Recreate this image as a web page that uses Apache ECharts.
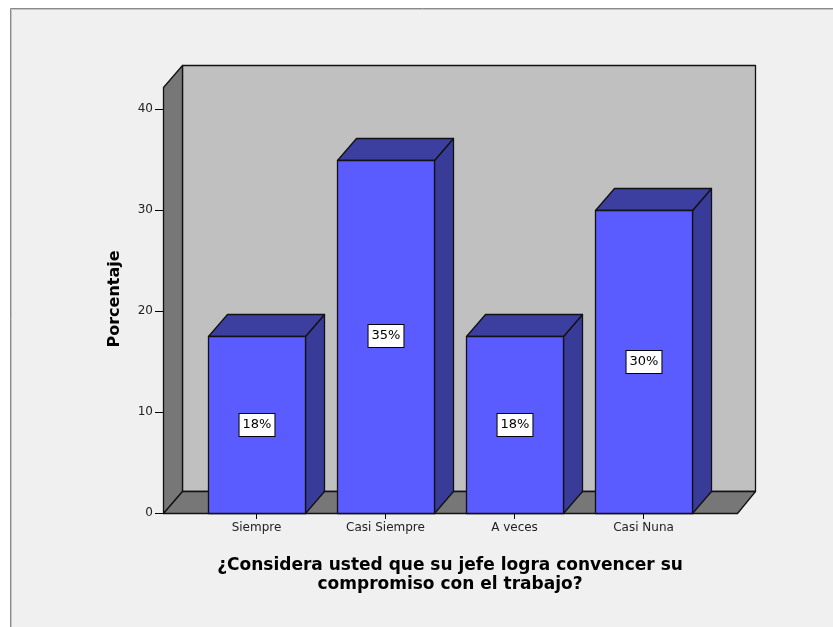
<!DOCTYPE html>
<html>
<head>
<meta charset="utf-8">
<script src="https://cdn.jsdelivr.net/npm/echarts@6/dist/echarts.min.js"></script>
<style>
  html, body { margin: 0; padding: 0; background: #ffffff; }
  #chart { width: 833px; height: 627px; }
</style>
</head>
<body>
<div id="chart"></div>
<script>
// Survey answers and their share of respondents (%)
const categories = ['Siempre', 'Casi Siempre', 'A veces', 'Casi Nuna'];
const percentages = [17.5, 35, 17.5, 30];
const yTicks = [0, 10, 20, 30, 40];
const xTitle = '¿Considera usted que su jefe logra convencer su\ncompromiso con el trabajo?';
const yTitle = 'Porcentaje';

// 3D box look
const DEPTH_X = 18.5;       // horizontal depth offset of the back plane
const DEPTH_Y = -22.5;      // vertical depth offset of the back plane
const WALL_PAD = 29;        // floor overhang beyond the category band
const WALL_TOP = 42.2;      // height of the walls in axis units
const BAR_RATIO = 0.75;     // bar width relative to the category band
const FONT = '"DejaVu Sans", Verdana, sans-serif';

const crisp = v => Math.round(v) + 0.5;

const chart = echarts.init(document.getElementById('chart'), null, { renderer: 'canvas' });

function renderWalls(params, api) {
  const cs = params.coordSys;
  const L = crisp(cs.x - WALL_PAD);
  const R = crisp(cs.x + cs.width + WALL_PAD);
  const y0 = crisp(api.coord([0, 0])[1]);
  const yT = crisp(api.coord([0, WALL_TOP])[1]);
  const dx = Math.round(DEPTH_X), dy = Math.round(DEPTH_Y);
  const edge = { stroke: '#111111', lineWidth: 1.3, lineJoin: 'round' };
  return {
    type: 'group',
    children: [
      { type: 'polygon', shape: { points: [[L + dx, yT + dy], [R + dx - 1, yT + dy], [R + dx - 1, y0 + dy], [L + dx, y0 + dy]] },
        style: Object.assign({ fill: '#c0c0c0' }, edge) },
      { type: 'polygon', shape: { points: [[L, yT], [L + dx, yT + dy], [L + dx, y0 + dy], [L, y0]] },
        style: Object.assign({ fill: '#777777' }, edge) },
      { type: 'polygon', shape: { points: [[L, y0], [L + dx, y0 + dy], [R + dx - 1, y0 + dy], [R, y0]] },
        style: Object.assign({ fill: '#777777' }, edge) }
    ]
  };
}

function renderBar(params, api) {
  const idx = api.value(0);
  const val = api.value(1);
  const top = api.coord([idx, val]);
  const base = api.coord([idx, 0]);
  const bw = api.size([1, 0])[0] * BAR_RATIO;
  const x0 = crisp(top[0] - bw / 2);
  const x1 = crisp(top[0] + bw / 2);
  const yT = crisp(top[1]);
  const y0 = crisp(base[1]);
  const dx = Math.round(DEPTH_X), dy = Math.round(DEPTH_Y);
  const edge = { stroke: '#111111', lineWidth: 1.3, lineJoin: 'round' };
  return {
    type: 'group',
    children: [
      { type: 'polygon', shape: { points: [[x1, yT], [x1 + dx, yT + dy], [x1 + dx, y0 + dy], [x1, y0]] },
        style: Object.assign({ fill: '#393b98' }, edge) },
      { type: 'polygon', shape: { points: [[x0, yT], [x0 + dx, yT + dy], [x1 + dx, yT + dy], [x1, yT]] },
        style: Object.assign({ fill: '#3c3f9f' }, edge) },
      { type: 'polygon', shape: { points: [[x0, yT], [x1, yT], [x1, y0], [x0, y0]] },
        style: Object.assign({ fill: '#5a5cff' }, edge) },
      { type: 'text', x: Math.round(top[0]), y: Math.round((top[1] + base[1]) / 2),
        style: {
          text: Math.round(val) + '%', fill: '#000000', font: '13px ' + FONT,
          align: 'center', verticalAlign: 'middle',
          backgroundColor: '#ffffff', borderColor: '#000000', borderWidth: 1,
          padding: [5, 3, 4, 3]
        } }
    ]
  };
}

chart.setOption({
  backgroundColor: '#ffffff',
  animation: false,
  graphic: [
    { type: 'rect', z: 0, shape: { x: 10.5, y: 8.5, width: 900, height: 700 },
      style: { fill: '#f0f0f0', stroke: '#8a8a8a', lineWidth: 1 } },
    { type: 'rect', z: 0, shape: { x: 11.5, y: 9.5, width: 900, height: 700 },
      style: { fill: 'none', stroke: '#c4c4c4', lineWidth: 1 } },
    { type: 'text', z: 5, x: 115, y: 299, rotation: Math.PI / 2,
      style: { text: yTitle, font: 'bold 16px ' + FONT, fill: '#000000', align: 'center', verticalAlign: 'middle' } }
  ],
  grid: { left: 192, right: 125, top: 109, bottom: 114, containLabel: false },
  xAxis: {
    type: 'category',
    data: categories,
    axisLine: { show: false },
    axisTick: { show: true, alignWithLabel: true, length: 6, lineStyle: { color: '#000000' } },
    axisLabel: { color: '#222222', fontSize: 12, fontFamily: FONT, margin: 9 },
    splitLine: { show: false },
    name: xTitle,
    nameLocation: 'middle',
    nameGap: 43,
    nameTextStyle: { color: '#000000', fontWeight: 'bold', fontSize: 17, fontFamily: FONT, lineHeight: 19 }
  },
  yAxis: {
    type: 'value',
    min: yTicks[0],
    max: yTicks[yTicks.length - 1],
    interval: yTicks[1] - yTicks[0],
    offset: WALL_PAD,
    axisLine: { show: false },
    axisTick: { show: true, length: 8, lineStyle: { color: '#000000' } },
    axisLabel: { color: '#222222', fontSize: 12, fontFamily: FONT, margin: 10 },
    splitLine: { show: false }
  },
  series: [
    { type: 'custom', name: 'walls', silent: true, z: 1, data: [[0, 0]], renderItem: renderWalls },
    { type: 'custom', name: yTitle, z: 2, encode: { x: 0, y: 1 },
      data: categories.map((c, i) => [i, percentages[i]]), renderItem: renderBar }
  ]
});
</script>
</body>
</html>
